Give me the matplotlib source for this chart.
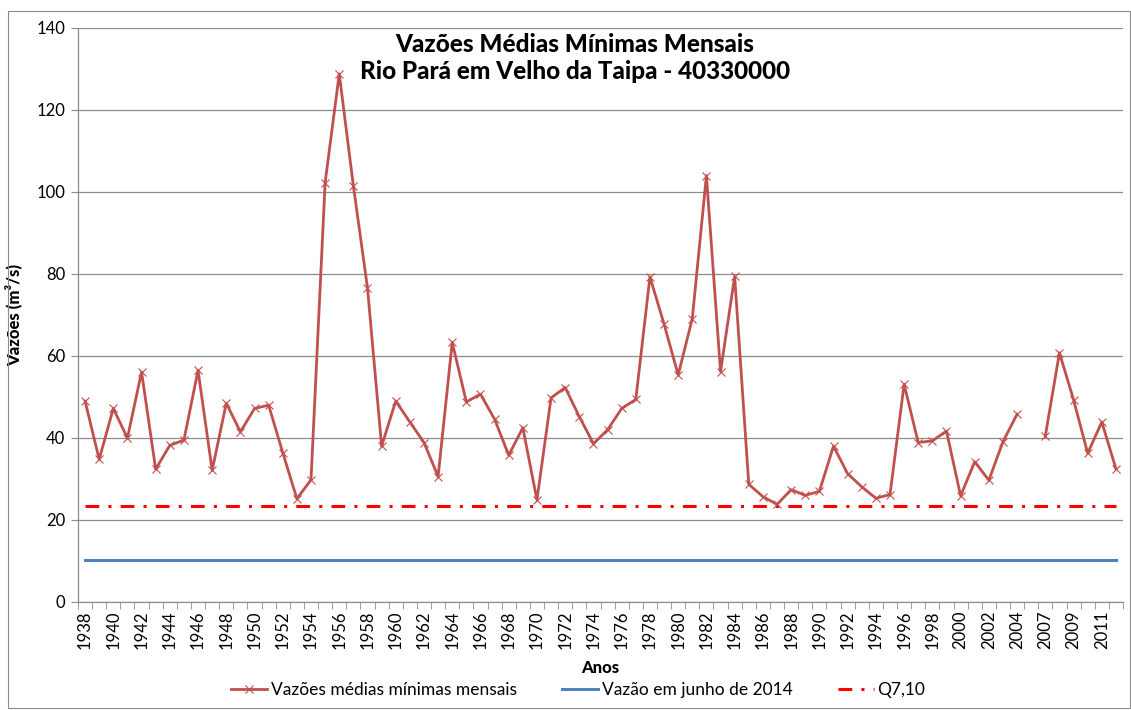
import numpy as np
import matplotlib
matplotlib.use("Agg")
import matplotlib.pyplot as plt
from matplotlib.patches import Rectangle

plt.rcParams['font.family'] = ['Lato', 'DejaVu Sans']

years = list(range(1938, 2005)) + [2006] + list(range(2007, 2013))
vazoes = [49.0, 34.8, 47.2, 40.0, 56.1, 32.4, 38.2, 39.5, 56.5, 32.1,
          48.5, 41.5, 47.2, 48.0, 36.4, 25.2, 29.8, 102.3, 128.8, 101.5,
          76.6, 38.0, 49.0, 43.9, 38.9, 30.6, 63.3, 48.8, 50.7, 44.6,
          35.8, 42.5, 24.9, 49.8, 52.3, 45.2, 38.6, 42.0, 47.2, 49.4,
          79.3, 67.8, 55.4, 69.1, 104.0, 56.2, 79.4, 28.7, 25.7, 23.8,
          27.4, 26.0, 27.0, 38.0, 31.3, 28.1, 25.3, 26.2, 53.1, 38.9,
          39.3, 41.7, 25.9, 34.2, 29.7, 39.1, 45.8, np.nan, 40.5, 60.8,
          49.3, 36.3, 43.9, 32.5]
vazao_junho_2014 = 10.2
q710 = 23.3

labels_series = ["Vazões médias mínimas mensais", "Vazão em junho de 2014", "Q7,10"]
yticks = [0, 20, 40, 60, 80, 100, 120, 140]

W, H = 1131, 710
fig = plt.figure(figsize=(W / 100, H / 100), dpi=100)
fig.patches.append(Rectangle((8 / W, 1 - 708 / H), (1130 - 8) / W, (708 - 11) / H,
                             transform=fig.transFigure, fill=False,
                             edgecolor='#8c8c8c', linewidth=0.8))

ax = fig.add_axes([78 / W, 108 / H, 1045 / W, 574 / H])
n = len(years)
x = np.arange(n)

ax.plot(x, vazoes, color='#C0504D', linewidth=2.0, marker='x', markersize=5.5,
        markeredgewidth=0.8, markeredgecolor='#C0504D', label=labels_series[0], zorder=4)
ax.plot(x, [vazao_junho_2014] * n, color='#4F81BD', linewidth=2.2, label=labels_series[1], zorder=3)
ax.plot(x, [q710] * n, color='#FF0000', linewidth=2.2, dashes=(4.5, 3, 1, 3),
        label=labels_series[2], zorder=3)

ax.set_xlim(-0.5, n - 0.5)
ax.set_ylim(0, 140)
ax.set_yticks(yticks)
ax.yaxis.grid(True, color='#8c8c8c', linewidth=0.9)
ax.set_axisbelow(True)
for s in ['top', 'right']:
    ax.spines[s].set_visible(False)
for s in ['left', 'bottom']:
    ax.spines[s].set_color('#8c8c8c')
    ax.spines[s].set_linewidth(0.9)

ax.set_xticks(x[::2])
ax.set_xticklabels([str(y) for y in years[::2]], rotation=90, fontsize=12)
ax.set_xticks(np.arange(n + 1) - 0.5, minor=True)
ax.tick_params(axis='x', which='major', length=0, pad=6)
ax.tick_params(axis='x', which='minor', length=5, color='#8c8c8c', direction='out')
ax.tick_params(axis='y', length=5, color='#8c8c8c', labelsize=12, pad=4)

ax.set_xlabel("Anos", fontsize=12, fontweight='black', labelpad=8)
ax.set_ylabel("Vazões (m³/s)", fontsize=12, fontweight='black', labelpad=10)

fig.text(575 / W, 1 - 58 / H, "Vazões Médias Mínimas Mensais\nRio Pará em Velho da Taipa - 40330000",
         ha='center', va='center', fontsize=17.5, fontweight='black', linespacing=1.2)

leg = fig.legend(loc='center', bbox_to_anchor=(578 / W, 1 - 690 / H), ncol=3,
                 frameon=False, fontsize=12.5, handlelength=2.1, columnspacing=2.6,
                 handletextpad=0.2)

fig.savefig("out.png", dpi=100)
